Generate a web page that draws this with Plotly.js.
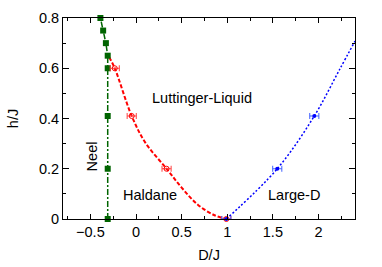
<!DOCTYPE html>
<html><head><meta charset="utf-8">
<script src="https://cdn.plot.ly/plotly-3.0.1.min.js"></script>
<style>html,body{margin:0;padding:0;background:#fff}#c{width:382px;height:267px}</style>
</head><body><div id="c"></div>
<script>
// Neel boundary (green)
const neelD = [-0.31, -0.31, -0.31, -0.31, -0.31, -0.33, -0.36, -0.39];
const neelH = [0, 0.2, 0.41, 0.6, 0.65, 0.7, 0.75, 0.8];
// Haldane - Luttinger liquid (red) points with errors
const hlD = [-0.233, -0.047, 0.335, 0.99];
const hlH = [0.6, 0.41, 0.2, 0];
const hlErr = [0.05, 0.05, 0.05, 0.05];
// red fitted curve
const hlCurveD = [-0.295, -0.233, -0.047, 0.10, 0.335, 0.50, 0.68, 0.86, 0.99];
const hlCurveH = [0.645, 0.6, 0.41, 0.305, 0.2, 0.125, 0.056, 0.015, 0];
// Large-D - Luttinger liquid (blue)
const ldD = [0.99, 1.548, 1.954];
const ldH = [0, 0.2, 0.41];
const ldErr = [0.05, 0.05, 0.05];
const ldCurveD = [0.99, 1.548, 1.954, 2.228, 2.4];
const ldCurveH = [0, 0.2, 0.41, 0.593, 0.708];
// labels
const labels = [
  {text: "Luttinger-Liquid", x: 0.727, y: 0.482, angle: 0},
  {text: "Haldane", x: 0.151, y: 0.0955, angle: 0},
  {text: "Large-D", x: 1.731, y: 0.0955, angle: 0},
  {text: "Neel", x: -0.488, y: 0.251, angle: -90}
];

const font = {family: "Liberation Sans, Arial, sans-serif", size: 14.5, color: "#000"};
const traces = [
  {x: hlCurveD, y: hlCurveH, mode: "lines", line: {color: "#ff0000", dash: "4px,2px", width: 2, shape: "spline", smoothing: 1}, hoverinfo: "none"},
  {x: ldCurveD, y: ldCurveH, mode: "lines", line: {color: "#0000ff", dash: "2px,2px", width: 1.5, shape: "spline"}, hoverinfo: "none"},
  {x: neelD, y: neelH, mode: "lines+markers", line: {color: "#006400", dash: "6px,2px,2px,2px", width: 1.5},
   marker: {symbol: "square", size: 6, color: "#006400"}, cliponaxis: false},
  {x: hlD, y: hlH, mode: "markers", marker: {symbol: "circle-open", size: 5, color: "#ff0000", line: {width: 1}},
   error_x: {type: "data", array: hlErr, color: "#ff4040", thickness: 1, width: 3}, cliponaxis: false},
  {x: ldD, y: ldH, mode: "markers", marker: {symbol: "circle", size: 4, color: "#0000ff"},
   error_x: {type: "data", array: ldErr, color: "#4060ff", thickness: 1, width: 3}, cliponaxis: false}
];
const axisCommon = {showgrid: false, zeroline: false, showline: true, linecolor: "#000", linewidth: 1,
  mirror: "allticks", ticks: "inside", tickcolor: "#000", tickfont: font};
const layout = {
  width: 382, height: 267, showlegend: false,
  margin: {l: 63, r: 27, t: 18, b: 48},
  paper_bgcolor: "#fff", plot_bgcolor: "#fff",
  xaxis: Object.assign({}, axisCommon, {range: [-0.8, 2.4], dtick: 0.5, tick0: 0, ticklen: 5,
    minor: {dtick: 0.25, tick0: 0, ticklen: 3, ticks: "inside", tickcolor: "#000"},
    title: {text: "D/J", font: font, standoff: 10}}),
  yaxis: Object.assign({}, axisCommon, {range: [0, 0.8], dtick: 0.2, tick0: 0, ticklen: 6,
    minor: {dtick: 0.1, tick0: 0, ticklen: 3, ticks: "inside", tickcolor: "#000"},
    title: {text: "h/J", font: font, standoff: 16}}),
  annotations: labels.map(l => ({text: l.text, x: l.x, y: l.y, xref: "x", yref: "y", showarrow: false,
    textangle: l.angle, font: font}))
};
Plotly.newPlot("c", traces, layout, {staticPlot: true});
</script></body></html>
